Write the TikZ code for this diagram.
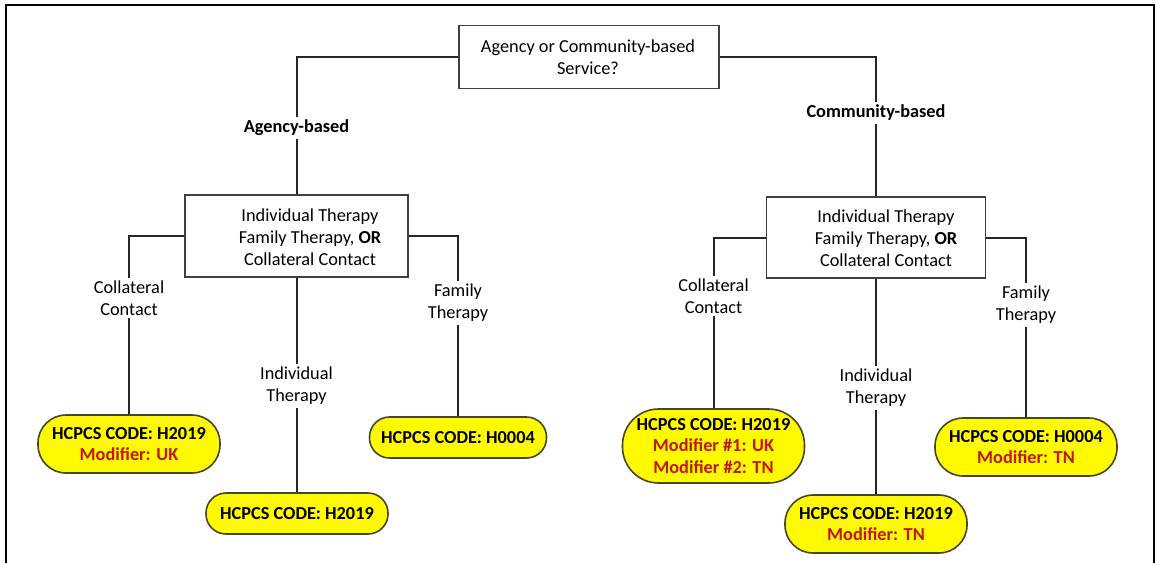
\documentclass[tikz,border=0pt]{standalone}
\usepackage{fontspec}
\setmainfont{Carlito}
\definecolor{hred}{RGB}{192,24,16}
\definecolor{hyel}{RGB}{255,250,0}
\definecolor{hedge}{RGB}{70,70,40}
\begin{document}
\begin{tikzpicture}[x=1pt,y=-1pt,
  font=\fontsize{18.3}{22}\selectfont,
  qbox/.style={draw=black!75, line width=1.4pt, fill=white, inner sep=0pt},
  qtxt/.style={align=center, inner sep=0pt},
  code/.style={draw=hedge, line width=1.6pt, fill=hyel, inner sep=0pt,
    font=\fontsize{18.3}{21.5}\selectfont\bfseries, align=center, minimum width=182pt},
  lbl/.style={fill=white, align=center, inner sep=3pt},
  conn/.style={line width=2pt, black!85}]
\useasboundingbox (0,0) rectangle (1156,563);
\fill[white] (0,0) rectangle (1156,563);
\draw[line width=2pt] (6,563) -- (6,5) -- (1154,5) -- (1154,563);

% boxes
\node[qbox, minimum width=260pt, minimum height=63pt] (top) at (589,57) {};
\node[qtxt] (toptxt) at (588,57) {Agency or Community-based\\Service?};
\node[qbox, minimum width=223pt, minimum height=82pt] (lbox) at (296.5,236) {};
\node[qtxt] (lboxtxt) at (310,237) {Individual Therapy\\Family Therapy, \textbf{OR}\\Collateral Contact};
\node[qbox, minimum width=219pt, minimum height=81pt] (rbox) at (876,237.5) {};
\node[qtxt] (rboxtxt) at (886,238) {Individual Therapy\\Family Therapy, \textbf{OR}\\Collateral Contact};

% code ovals
\node[code, minimum height=58pt, rounded corners=28pt] (la) at (129,444) {HCPCS CODE: H2019\\\textcolor{hred}{Modifier: UK}};
\node[code, minimum height=41pt, rounded corners=20pt] (lb) at (297,513.5) {HCPCS CODE: H2019};
\node[code, minimum height=41pt, minimum width=177pt, rounded corners=20pt] (lc) at (458,437.5) {HCPCS CODE: H0004};
\node[code, minimum height=74pt, rounded corners=36pt] (ra) at (713.5,446) {HCPCS CODE: H2019\\\textcolor{hred}{Modifier \#1: UK}\\\textcolor{hred}{Modifier \#2: TN}};
\node[code, minimum height=58pt, rounded corners=28pt] (rb) at (876,524) {HCPCS CODE: H2019\\\textcolor{hred}{Modifier: TN}};
\node[code, minimum height=58pt, rounded corners=28pt] (rc) at (1026,447) {HCPCS CODE: H0004\\\textcolor{hred}{Modifier: TN}};

% connectors
\draw[conn] (top.west) -| (lbox.north);
\draw[conn] (top.east) -| (rbox.north);
\draw[conn] (lbox.west) -| (la.north);
\draw[conn] (lbox.south) -- (lbox.south |- lb.north);
\draw[conn] (lbox.east) -| (lc.north);
\draw[conn] (rbox.west) -| (ra.north);
\draw[conn] (rbox.south) -- (rbox.south |- rb.north);
\draw[conn] (rbox.east) -| (rc.north);

% labels
\node[lbl] (agb) at (296.5,128) {\textbf{Agency-based}};
\node[lbl] (cmb) at (876,113) {\textbf{Community-based}};
\node[lbl] (lcc) at (129,298) {Collateral\\Contact};
\node[lbl] (lit) at (296.5,386) {Individual\\Therapy};
\node[lbl] (lft) at (458,303) {Family\\Therapy};
\node[lbl] (rcc) at (713.5,296) {Collateral\\Contact};
\node[lbl] (rit) at (876,388) {Individual\\Therapy};
\node[lbl] (rft) at (1026,305) {Family\\Therapy};
\end{tikzpicture}
\end{document}
